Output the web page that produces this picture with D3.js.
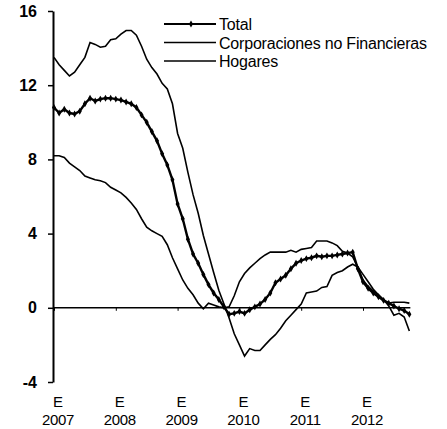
<!doctype html>
<html>
<head>
<meta charset="utf-8">
<style>
  body { margin: 0; background: #fff; }
  text { font-family: "Liberation Sans", Arial, sans-serif; fill: #000; }
</style>
<script src="https://d3js.org/d3.v7.min.js"></script>
</head>
<body>
<svg width="447" height="429"></svg>
<script>

// monthly growth rates, Jan 2007 .. Oct 2012
var total = [10.8, 10.5, 10.7, 10.5, 10.45, 10.6, 11.0, 11.3, 11.15, 11.25, 11.3, 11.3,
             11.25, 11.2, 11.1, 11.0, 10.8, 10.4, 10.0, 9.5, 9.0, 8.3, 7.7, 6.9,
             5.6, 4.8, 3.7, 2.9, 2.4, 1.8, 1.25, 0.8, 0.45, 0.05, -0.35, -0.3,
             -0.2, -0.3, -0.1, 0.05, 0.2, 0.45, 0.8, 1.35, 1.55, 1.75, 2.1, 2.4,
             2.55, 2.65, 2.7, 2.8, 2.75, 2.8, 2.8, 2.85, 2.9, 2.95, 3.0, 2.1,
             1.4, 1.05, 0.8, 0.6, 0.4, 0.25, 0.1, -0.05, -0.15, -0.35];
var corporaciones = [13.5, 13.1, 12.8, 12.5, 12.7, 13.1, 13.5, 14.3, 14.2, 14.05, 14.1, 14.45,
             14.5, 14.75, 14.95, 14.95, 14.7, 14.1, 13.4, 12.95, 12.6, 12.1, 11.8, 11.0,
             9.4, 8.6, 7.3, 6.1, 5.1, 3.9, 2.9, 1.9, 0.95, 0.2, -0.55, -1.4,
             -2.0, -2.6, -2.2, -2.3, -2.3, -2.0, -1.7, -1.45, -1.1, -0.7, -0.4, -0.1,
             0.2, 0.8, 0.85, 0.9, 1.1, 1.15, 1.75, 1.9, 2.0, 2.2, 2.35, 2.2,
             1.5, 1.15, 0.9, 0.7, 0.45, 0.1, -0.4, -0.3, -0.5, -1.25];
var hogares = [8.2, 8.2, 8.1, 7.8, 7.6, 7.4, 7.1, 7.0, 6.9, 6.85, 6.75, 6.5,
             6.35, 6.2, 5.95, 5.65, 5.3, 4.8, 4.35, 4.15, 4.0, 3.85, 3.4, 2.7,
             2.1, 1.5, 1.05, 0.7, 0.25, -0.05, 0.25, 0.15, 0.05, 0.0, 0.05, 0.65,
             1.4, 1.85, 2.15, 2.4, 2.65, 2.85, 3.0, 3.0, 3.0, 3.0, 3.1, 3.0,
             3.15, 3.2, 3.25, 3.6, 3.6, 3.6, 3.5, 3.35, 3.05, 2.95, 2.75, 2.2,
             1.8, 1.4, 1.0, 0.7, 0.4, 0.25, 0.3, 0.3, 0.3, 0.25];

var yTicks = [-4, 0, 4, 8, 12, 16];
var years = ["2007", "2008", "2009", "2010", "2011", "2012"];
var names = ["Total", "Corporaciones no Financieras", "Hogares"];

var svg = d3.select("svg");

var x = d3.scaleLinear().domain([0, 60]).range([54, 363]);
var y = d3.scaleLinear().domain([-4, 16]).range([382, 11]);

// y axis
var yAxis = svg.append("g")
    .attr("transform", "translate(53,0)")
    .call(d3.axisLeft(y).tickValues(yTicks).tickSize(5).tickSizeOuter(0).tickPadding(11)
        .tickFormat(function(d) { return String(d); }));
yAxis.select(".domain").attr("stroke-width", 2);
yAxis.selectAll(".tick line").attr("stroke-width", 1.5);
yAxis.selectAll(".tick text")
    .attr("font-size", "16px")
    .attr("font-weight", "bold")
    .attr("font-family", "'Liberation Sans', Arial, sans-serif");

// zero line + yearly ticks
svg.append("line")
    .attr("x1", x(0)).attr("x2", x(total.length - 1) + 1)
    .attr("y1", y(0)).attr("y2", y(0))
    .attr("stroke", "#000").attr("stroke-width", 1.5);

var yearIdx = years.map(function(d, i) { return i * 12; });
var xAxis = svg.append("g")
    .attr("transform", "translate(0," + y(0) + ")")
    .call(d3.axisBottom(x).tickValues(yearIdx).tickSize(3).tickFormat(""));
xAxis.select(".domain").remove();

var lab = svg.append("g").selectAll("g")
    .data(years).enter().append("g")
    .attr("transform", function(d, i) { return "translate(" + (x(i * 12) + 4) + ",0)"; });
lab.append("text").attr("y", 407).attr("text-anchor", "middle")
    .attr("font-size", "15px").text("E");
lab.append("text").attr("y", 425).attr("text-anchor", "middle")
    .attr("font-size", "15px").attr("letter-spacing", "-0.3px")
    .text(function(d) { return d; });

// lines
var line = d3.line()
    .x(function(d, i) { return x(i); })
    .y(function(d) { return y(d); });

svg.append("path").datum(hogares)
    .attr("d", line).attr("fill", "none")
    .attr("stroke", "#000").attr("stroke-width", 1.6);
svg.append("path").datum(corporaciones)
    .attr("d", line).attr("fill", "none")
    .attr("stroke", "#000").attr("stroke-width", 1.6);
svg.append("path").datum(total)
    .attr("d", line).attr("fill", "none")
    .attr("stroke", "#000").attr("stroke-width", 2.4);

var diamond = d3.symbol().type(d3.symbolDiamond).size(14);
svg.append("g").selectAll("path")
    .data(total).enter().append("path")
    .attr("d", diamond)
    .attr("transform", function(d, i) { return "translate(" + x(i) + "," + y(d) + ")"; })
    .attr("fill", "#000");

// legend
var leg = svg.append("g").selectAll("g")
    .data(names).enter().append("g")
    .attr("transform", function(d, i) { return "translate(0," + [24, 42.5, 61][i] + ")"; });
leg.append("line")
    .attr("x1", 164).attr("x2", 216)
    .attr("stroke", "#000")
    .attr("stroke-width", function(d, i) { return i == 0 ? 2 : 1.6; });
leg.filter(function(d, i) { return i == 0; })
    .append("path").attr("d", diamond).attr("transform", "translate(191,0)");
leg.append("text")
    .attr("x", 219).attr("y", 6)
    .attr("font-size", "16px").attr("letter-spacing", "-0.2px")
    .text(function(d) { return d; });

</script>
</body>
</html>
